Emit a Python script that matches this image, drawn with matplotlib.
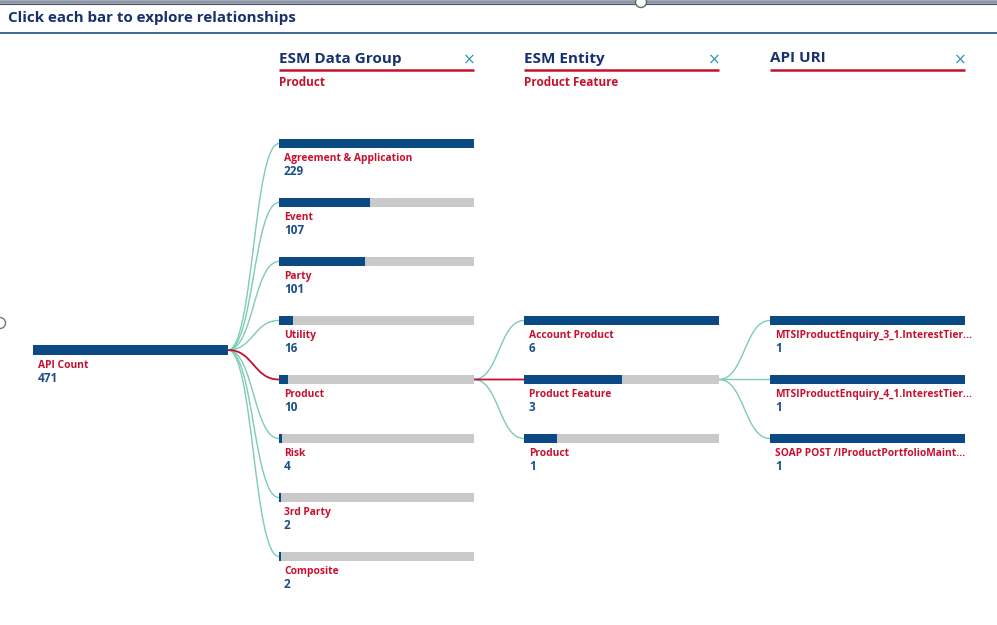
import matplotlib
matplotlib.use("Agg")
import matplotlib.pyplot as plt
from matplotlib.path import Path
from matplotlib.patches import PathPatch, Circle

# ---------------- data ----------------
root_label = "API Count"
root_value = 471

col_titles = ["ESM Data Group", "ESM Entity", "API URI"]
col_selected = ["Product", "Product Feature", ""]

groups = ["Agreement & Application", "Event", "Party", "Utility", "Product",
          "Risk", "3rd Party", "Composite"]
group_counts = [229, 107, 101, 16, 10, 4, 2, 2]

entities = ["Account Product", "Product Feature", "Product"]
entity_counts = [6, 3, 1]

uris = ["MTSIProductEnquiry_3_1.InterestTier...",
        "MTSIProductEnquiry_4_1.InterestTier...",
        "SOAP POST /IProductPortfolioMaint..."]
uri_counts = [1, 1, 1]

# ---------------- style ----------------
FONT = "Open Sans"
NAVY = "#17316E"
RED = "#C8102E"
BLUE = "#0C4A84"
NUMC = "#1B4F8A"
GRAY = "#C9C9C9"
TEAL = "#7FCBB4"
XTEAL = "#2A9BB5"

W, H = 997, 625
fig = plt.figure(figsize=(W / 100, H / 100), dpi=100)
ax = fig.add_axes([0, 0, 1, 1])
ax.set_xlim(0, W)
ax.set_ylim(H, 0)
ax.axis("off")

# frame lines
ax.plot([0, W], [1.8, 1.8], color="#8C95A5", lw=2.6, solid_capstyle="butt")
ax.plot([0, W], [3.8, 3.8], color="#4A5364", lw=0.8)
ax.plot([0, W], [33, 33], color="#1F4E86", lw=1.2)
ax.add_patch(Circle((641, 2), 5.5, facecolor="white", edgecolor="#666666", lw=1.0, zorder=5))
ax.add_patch(Circle((0, 323), 5.5, facecolor="white", edgecolor="#777777", lw=1.0, zorder=5))

ax.text(8, 18, "Click each bar to explore relationships", color=NAVY,
        fontsize=10.9, fontweight="bold", family=FONT, va="center", ha="left")

BW = 195
BH = 9.5
STEP = 59
root_x = 33
col_x = [279, 524, 770]


def curve(x0, y0, x1, y1, color, lw=1.0, z=1):
    xm = (x0 + x1) / 2
    verts = [(x0, y0), (xm, y0), (xm, y1), (x1, y1)]
    p = Path(verts, [Path.MOVETO, Path.CURVE4, Path.CURVE4, Path.CURVE4])
    ax.add_patch(PathPatch(p, facecolor="none", edgecolor=color, lw=lw, zorder=z))


def draw_node(x, y, name, val, vmax):
    ax.barh(y, BW, left=x, height=BH, color=GRAY, zorder=2)
    ax.barh(y, BW * val / vmax, left=x, height=BH, color=BLUE, zorder=3)
    ax.text(x + 5, y + 15, name, color=RED, fontsize=7.4, fontweight="bold",
            family=FONT, va="center", ha="left")
    ax.text(x + 5, y + 28, str(val), color=NUMC, fontsize=8.5, fontweight="bold",
            family=FONT, va="center", ha="left")


# column headers
for cx, t, s in zip(col_x, col_titles, col_selected):
    ax.text(cx, 58.5, t, color=NAVY, fontsize=11, fontweight="bold", family=FONT,
            va="center", ha="left")
    ax.plot([cx, cx + BW], [69.5, 69.5], color=RED, lw=1.8, solid_capstyle="butt")
    ax.text(cx + BW - 5, 60.5, "\u00d7", color=XTEAL, fontsize=11, family="DejaVu Sans",
            va="center", ha="center")
    if s:
        ax.text(cx, 82, s, color=RED, fontsize=8.5, fontweight="bold", family=FONT,
                va="center", ha="left")

# positions
g_y = [143.5 + STEP * i for i in range(len(groups))]
root_y = (g_y[0] + g_y[-1]) / 2
sel_g = groups.index(col_selected[0])
e_y = [g_y[sel_g] + STEP * (i - (len(entities) - 1) / 2) for i in range(len(entities))]
sel_e = entities.index(col_selected[1])
u_y = [e_y[sel_e] + STEP * (i - (len(uris) - 1) / 2) for i in range(len(uris))]

# root
draw_node(root_x, root_y, root_label, root_value, root_value)

# connectors root -> groups
for i, y in enumerate(g_y):
    if i != sel_g:
        curve(root_x + BW, root_y, col_x[0], y, TEAL)
curve(root_x + BW, root_y, col_x[0], g_y[sel_g], RED, lw=1.3, z=1.5)

# groups
gmax = max(group_counts)
for n, v, y in zip(groups, group_counts, g_y):
    draw_node(col_x[0], y, n, v, gmax)

# connectors group -> entities
for i, y in enumerate(e_y):
    if i != sel_e:
        curve(col_x[0] + BW, g_y[sel_g], col_x[1], y, TEAL)
curve(col_x[0] + BW, g_y[sel_g], col_x[1], e_y[sel_e], RED, lw=1.3, z=1.5)

emax = max(entity_counts)
for n, v, y in zip(entities, entity_counts, e_y):
    draw_node(col_x[1], y, n, v, emax)

# connectors entity -> uris
for y in u_y:
    curve(col_x[1] + BW, e_y[sel_e], col_x[2], y, TEAL)

umax = max(uri_counts)
for n, v, y in zip(uris, uri_counts, u_y):
    draw_node(col_x[2], y, n, v, umax)

fig.savefig("out.png", dpi=100, facecolor="white")
